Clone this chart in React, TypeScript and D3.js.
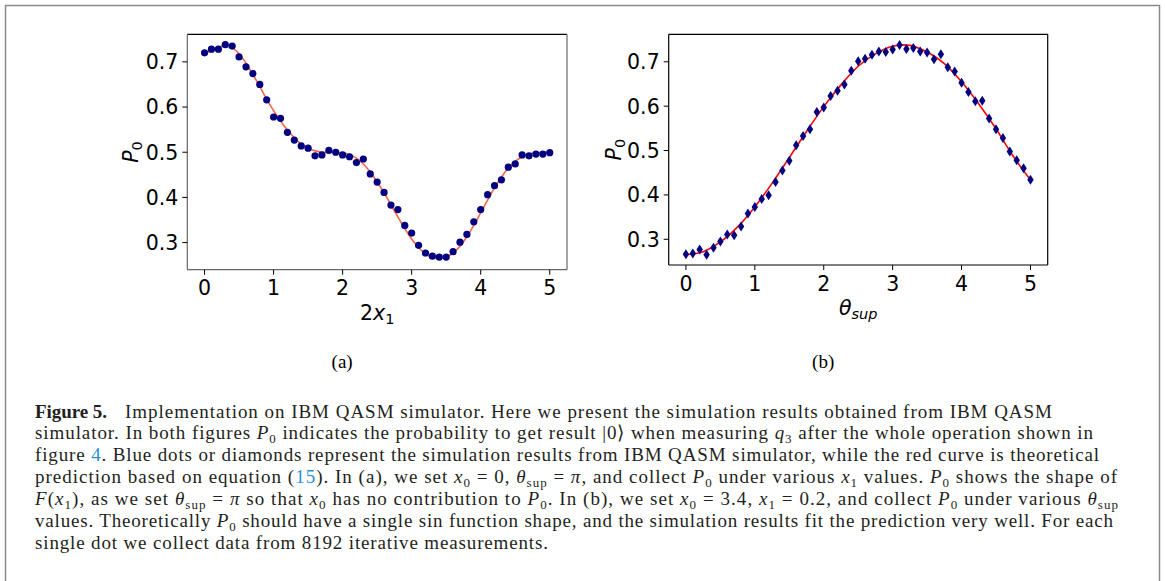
import React from "react";
import * as d3 from "d3";

// panel (a): P0 against 2x1
const xsA = [0, 0.1, 0.2, 0.3, 0.4, 0.5, 0.6, 0.7, 0.8, 0.9, 1, 1.1, 1.2, 1.3, 1.4, 1.5, 1.6, 1.7, 1.8, 1.9, 2, 2.1, 2.2, 2.3, 2.4, 2.5, 2.6, 2.7, 2.8, 2.9, 3, 3.1, 3.2, 3.3, 3.4, 3.5, 3.6, 3.7, 3.8, 3.9, 4, 4.1, 4.2, 4.3, 4.4, 4.5, 4.6, 4.7, 4.8, 4.9, 5];
const simA = [0.72, 0.728, 0.728, 0.738, 0.735, 0.711, 0.689, 0.674, 0.65, 0.616, 0.578, 0.575, 0.544, 0.527, 0.514, 0.509, 0.492, 0.494, 0.504, 0.5, 0.494, 0.49, 0.477, 0.485, 0.452, 0.434, 0.411, 0.383, 0.373, 0.338, 0.321, 0.294, 0.277, 0.27, 0.268, 0.268, 0.28, 0.301, 0.318, 0.346, 0.373, 0.406, 0.426, 0.439, 0.467, 0.474, 0.494, 0.492, 0.496, 0.496, 0.499];
const theoryA = [0.716, 0.726, 0.733, 0.735, 0.731, 0.718, 0.697, 0.672, 0.645, 0.617, 0.592, 0.569, 0.549, 0.532, 0.518, 0.509, 0.503, 0.5, 0.5, 0.5, 0.499, 0.495, 0.487, 0.474, 0.456, 0.434, 0.41, 0.384, 0.357, 0.331, 0.308, 0.289, 0.275, 0.267, 0.265, 0.268, 0.277, 0.292, 0.313, 0.338, 0.366, 0.394, 0.421, 0.445, 0.465, 0.48, 0.49, 0.496, 0.499, 0.5, 0.5];

// panel (b): P0 against theta_sup
const xsB = xsA;
const simB = [0.266, 0.268, 0.277, 0.265, 0.281, 0.295, 0.311, 0.309, 0.329, 0.358, 0.373, 0.391, 0.399, 0.429, 0.455, 0.477, 0.512, 0.533, 0.548, 0.587, 0.597, 0.623, 0.635, 0.649, 0.68, 0.701, 0.707, 0.716, 0.723, 0.722, 0.728, 0.738, 0.729, 0.731, 0.723, 0.721, 0.706, 0.717, 0.688, 0.678, 0.653, 0.632, 0.611, 0.612, 0.572, 0.548, 0.528, 0.498, 0.478, 0.46, 0.434];
const theoryXB = [0, 0.25, 0.5, 0.75, 1, 1.25, 1.5, 1.75, 2, 2.25, 2.5, 2.75, 3, 3.25, 3.5, 3.75, 4, 4.25, 4.5, 4.75, 5];
const theoryB = [0.265, 0.272, 0.294, 0.328, 0.373, 0.426, 0.484, 0.543, 0.599, 0.648, 0.69, 0.718, 0.735, 0.737, 0.722, 0.696, 0.655, 0.605, 0.549, 0.487, 0.434];

const xTicks = [0, 1, 2, 3, 4, 5];
const yTicks = [0.3, 0.4, 0.5, 0.6, 0.7];

const axisFont = "'DejaVu Sans', sans-serif";
const serifFont = "'Liberation Serif', 'Times New Roman', serif";
const tickSize = 20.5;

type PanelProps = {
  left: number;
  right: number;
  top: number;
  bottom: number;
  yDomain: [number, number];
  xs: number[];
  sim: number[];
  theoryX: number[];
  theory: number[];
  lineColor: string;
  spineColor: string;
  marker: "circle" | "diamond";
  xLabel: React.ReactNode;
  yLabelX: number;
  caption: string;
};

function Panel(p: PanelProps) {
  const x = d3.scaleLinear().domain([-0.25, 5.25]).range([p.left, p.right]);
  const y = d3.scaleLinear().domain(p.yDomain).range([p.bottom, p.top]);
  const line = d3
    .line<number>()
    .x((_, i) => x(p.theoryX[i]))
    .y((d) => y(d))
    .curve(d3.curveCatmullRom);
  const midX = (p.left + p.right) / 2;
  const midY = (p.top + p.bottom) / 2;

  return (
    <g>
      <path d={line(p.theory) || ""} fill="none" stroke={p.lineColor} strokeWidth={1.6} />
      {p.sim.map((v, i) =>
        p.marker === "circle" ? (
          <circle key={i} cx={x(p.xs[i])} cy={y(v)} r={3.6} fill="#000080" />
        ) : (
          <path
            key={i}
            transform={`translate(${x(p.xs[i])},${y(v)})`}
            d="M0,-5 L3.2,0 L0,5 L-3.2,0 Z"
            fill="#000080"
          />
        )
      )}
      {/* spines */}
      <line x1={p.left} x2={p.right} y1={p.top} y2={p.top} stroke="#000" strokeWidth={1.2} />
      <line x1={p.left} x2={p.left} y1={p.top} y2={p.bottom} stroke={p.spineColor} strokeWidth={1.2} />
      <line x1={p.right} x2={p.right} y1={p.top} y2={p.bottom} stroke={p.spineColor} strokeWidth={1.2} />
      <line x1={p.left} x2={p.right} y1={p.bottom} y2={p.bottom} stroke={p.spineColor} strokeWidth={1.2} />
      {xTicks.map((t) => (
        <g key={t}>
          <line x1={x(t)} x2={x(t)} y1={p.bottom} y2={p.bottom + 5} stroke="#000" strokeWidth={1} />
          <text x={x(t)} y={p.bottom + 25.5} textAnchor="middle" fontFamily={axisFont} fontSize={tickSize}>
            {t}
          </text>
        </g>
      ))}
      {yTicks.map((t) => (
        <g key={t}>
          <line x1={p.left - 5} x2={p.left} y1={y(t)} y2={y(t)} stroke="#000" strokeWidth={1} />
          <text
            x={p.left - 9}
            y={y(t)}
            dy="0.36em"
            textAnchor="end"
            fontFamily={axisFont}
            fontSize={tickSize}
          >
            {t.toFixed(1)}
          </text>
        </g>
      ))}
      <text x={midX} y={p.bottom + 50} textAnchor="middle" fontFamily={axisFont} fontSize={tickSize}>
        {p.xLabel}
      </text>
      <text
        transform={`translate(${p.yLabelX},${midY}) rotate(-90)`}
        textAnchor="middle"
        fontFamily={axisFont}
        fontSize={tickSize}
      >
        <tspan fontStyle="italic">P</tspan>
        <tspan fontSize={14.5} dy={4}>0</tspan>
      </text>
      <text x={midX - 35} y={368} textAnchor="middle" fontFamily={serifFont} fontSize={19}>
        {p.caption}
      </text>
    </g>
  );
}

// caption: [text, kind]  kind: i italic, s subscript, b link blue, B bold
type Seg = [string, string?];
const captionLines: { x: number; end: number; segs: Seg[] }[] = [
  { x: 35, end: 107, segs: [["Figure 5.", "B"]] },
  {
    x: 125,
    end: 1052,
    segs: [["Implementation on IBM QASM simulator. Here we present the simulation results obtained from IBM QASM"]],
  },
  {
    x: 35,
    end: 1093,
    segs: [
      ["simulator. In both figures "], ["P", "i"], ["0", "s"],
      [" indicates the probability to get result |0⟩ when measuring "], ["q", "i"], ["3", "s"],
      [" after the whole operation shown in"],
    ],
  },
  {
    x: 35,
    end: 1099,
    segs: [
      ["figure "], ["4", "b"],
      [". Blue dots or diamonds represent the simulation results from IBM QASM simulator, while the red curve is theoretical"],
    ],
  },
  {
    x: 35,
    end: 1117,
    segs: [
      ["prediction based on equation ("], ["15", "b"], ["). In (a), we set "], ["x", "i"], ["0", "s"],
      [" = 0, "], ["θ", "i"], ["sup", "s"], [" = "], ["π", "i"], [", and collect "], ["P", "i"], ["0", "s"],
      [" under various "], ["x", "i"], ["1", "s"], [" values. "], ["P", "i"], ["0", "s"], [" shows the shape of"],
    ],
  },
  {
    x: 35,
    end: 1118,
    segs: [
      ["F", "i"], ["("], ["x", "i"], ["1", "s"], ["), as we set "], ["θ", "i"], ["sup", "s"], [" = "], ["π", "i"],
      [" so that "], ["x", "i"], ["0", "s"], [" has no contribution to "], ["P", "i"], ["0", "s"],
      [". In (b), we set "], ["x", "i"], ["0", "s"], [" = 3.4, "], ["x", "i"], ["1", "s"], [" = 0.2, and collect "],
      ["P", "i"], ["0", "s"], [" under various "], ["θ", "i"], ["sup", "s"],
    ],
  },
  {
    x: 35,
    end: 1113,
    segs: [
      ["values. Theoretically "], ["P", "i"], ["0", "s"],
      [" should have a single sin function shape, and the simulation results fit the prediction very well. For each"],
    ],
  },
  { x: 35, end: 548, segs: [["single dot we collect data from 8192 iterative measurements."]] },
];
const lineRow = [0, 0, 1, 2, 3, 4, 5, 6];

function CaptionLine({ line, row }: { line: (typeof captionLines)[number]; row: number }) {
  let shifted = false;
  return (
    <text
      x={line.x}
      y={417.5 + row * 21.9}
      fontFamily={serifFont}
      fontSize={19}
      fill="#231f20"
      textLength={line.end - line.x}
      lengthAdjust="spacing"
    >
      {line.segs.map(([t, k], i) => {
        let dy = 0;
        const sub = k === "s";
        if (sub && !shifted) {
          dy = 3.5;
          shifted = true;
        } else if (!sub && shifted) {
          dy = -3.5;
          shifted = false;
        }
        return (
          <tspan
            key={i}
            dy={dy || undefined}
            fontStyle={k === "i" ? "italic" : undefined}
            fontWeight={k === "B" ? "bold" : undefined}
            fontSize={sub ? 13 : undefined}
            fill={k === "b" ? "#2a8fd6" : undefined}
          >
            {t}
          </tspan>
        );
      })}
    </text>
  );
}

export default function App() {
  return (
    <svg
      width={1165}
      height={581}
      style={{ position: "absolute", left: 0, top: 0, background: "#fff" }}
    >
      <rect x={5.5} y={5.5} width={1154} height={600} fill="#fff" stroke="#8a8a8a" strokeWidth={1.5} />
      <Panel
        left={187.3}
        right={567}
        top={34.3}
        bottom={269.7}
        yDomain={[0.24, 0.761]}
        xs={xsA}
        sim={simA}
        theoryX={xsA}
        theory={theoryA}
        lineColor="#ff6347"
        spineColor="#666"
        marker="circle"
        xLabel={
          <>
            <tspan>2</tspan>
            <tspan fontStyle="italic">x</tspan>
            <tspan fontSize={14.5} dy={4}>1</tspan>
          </>
        }
        yLabelX={138}
        caption="(a)"
      />
      <Panel
        left={668.7}
        right={1047.7}
        top={34.3}
        bottom={265}
        yDomain={[0.242, 0.762]}
        xs={xsB}
        sim={simB}
        theoryX={theoryXB}
        theory={theoryB}
        lineColor="#ff0000"
        spineColor="#000"
        marker="diamond"
        xLabel={
          <>
            <tspan fontStyle="italic">θ</tspan>
            <tspan fontSize={14.5} fontStyle="italic" dy={4}>sup</tspan>
          </>
        }
        yLabelX={621}
        caption="(b)"
      />
      {captionLines.map((l, i) => (
        <CaptionLine key={i} line={l} row={lineRow[i]} />
      ))}
    </svg>
  );
}
